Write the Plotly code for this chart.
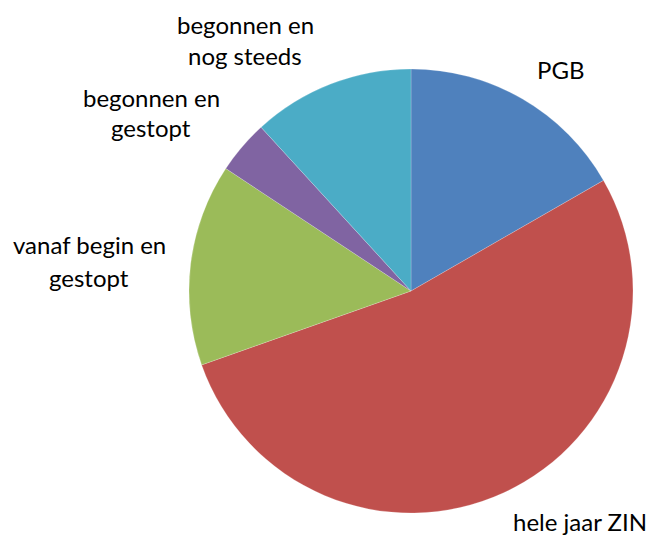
import plotly.graph_objects as go

categories = ["PGB", "hele jaar ZIN", "vanaf begin en\ngestopt", "begonnen en\ngestopt", "begonnen en\nnog steeds"]
values = [16.7, 52.9, 14.7, 3.9, 11.8]
colors = ["#4F81BD", "#C0504D", "#9BBB59", "#8064A2", "#4BACC6"]
# label line centres (pixels in the page)
label_x = [560, 580, 89, 151, 245]
label_y = [[70], [521], [245, 277], [97, 128], [25, 56]]

W, H = 656, 535
OFF = 8  # page body margin
L, T, S = 189 - OFF, 69 - OFF, 444
fig = go.Figure(go.Pie(
    labels=[c.replace("\n", " ") for c in categories],
    values=values,
    marker=dict(colors=colors, line=dict(color="rgba(255,255,255,0.4)", width=0.5)),
    sort=False,
    direction="clockwise",
    rotation=0,
    textinfo="none",
    showlegend=False,
))

annotations = []
for cat, x, ys in zip(categories, label_x, label_y):
    for line, y in zip(cat.split("\n"), ys):
        annotations.append(dict(
            text=line,
            x=(x - OFF - L) / S, y=1 - (y - OFF - T) / S,
            xref="paper", yref="paper",
            xanchor="center", yanchor="middle", showarrow=False,
            font=dict(family="Lato", size=24, color="#000000"),
        ))

fig.update_layout(
    width=W, height=H,
    margin=dict(l=L, r=W - L - S, t=T, b=H - T - S),
    paper_bgcolor="white", plot_bgcolor="white",
    annotations=annotations,
)
fig.write_html("out.html")
